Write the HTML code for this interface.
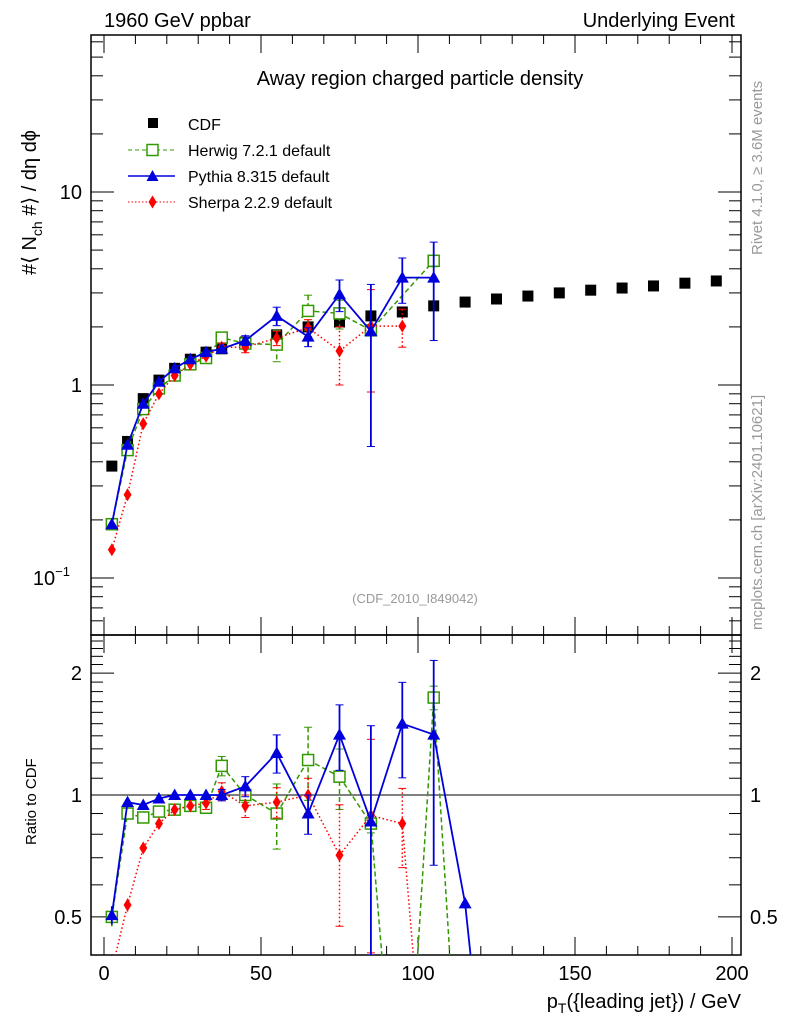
<!DOCTYPE html>
<html><head><meta charset="utf-8"><style>
html,body{margin:0;padding:0;background:#fff;overflow:hidden;width:786px;height:1024px}
svg{display:block;overflow:hidden}
svg text{font-family:"Liberation Sans",sans-serif}
</style></head><body>
<svg id="c" width="786" height="1024" xmlns="http://www.w3.org/2000/svg">
<text x="104" y="27" font-size="20">1960 GeV ppbar</text>
<text x="735" y="27" font-size="20" text-anchor="end">Underlying Event</text>
<text x="420" y="85" font-size="20" text-anchor="middle">Away region charged particle density</text>
<text x="415" y="603" font-size="13" fill="#999" text-anchor="middle">(CDF_2010_I849042)</text>
<text transform="translate(762,255) rotate(-90)" font-size="15" fill="#999">Rivet 4.1.0, ≥ 3.6M events</text>
<text transform="translate(762,630) rotate(-90)" font-size="15" fill="#999">mcplots.cern.ch [arXiv:2401.10621]</text>
<text transform="translate(36,275) rotate(-90)" font-size="20">#⟨ N<tspan font-size="14" dy="6">ch</tspan><tspan dy="-6"> #⟩ / dη dϕ</tspan></text>
<text transform="translate(36,845) rotate(-90)" font-size="15">Ratio to CDF</text>
<text x="741" y="1008" font-size="20" text-anchor="end">p<tspan font-size="14" dy="5">T</tspan><tspan dy="-5">({leading jet}) / GeV</tspan></text>
<g id="legend">
<g><rect x="148" y="118" width="10" height="10" fill="#000"/><text x="188" y="130" font-size="16">CDF</text></g>
<g><line x1="128" y1="150" x2="175" y2="150" stroke="#339900" stroke-dasharray="4,3"/><rect x="147" y="144.5" width="11" height="11" fill="#fff" stroke="#339900" stroke-width="1.5"/><text x="188" y="156" font-size="16">Herwig 7.2.1 default</text></g>
<g><line x1="128" y1="176" x2="175" y2="176" stroke="#0000dd" stroke-width="1.5"/><path d="M152.5,170 L158.5,181 L146.5,181Z" fill="#0000dd"/><text x="188" y="182" font-size="16">Pythia 8.315 default</text></g>
<g><line x1="128" y1="202" x2="175" y2="202" stroke="#ff0000" stroke-dasharray="1.5,2"/><path d="M152.5,195.5 L156.5,202 L152.5,208.5 L148.5,202Z" fill="#ff0000"/><text x="188" y="208" font-size="16">Sherpa 2.2.9 default</text></g>
</g>
</svg>
<script>
const xBins=[2.5,7.5,12.5,17.5,22.5,27.5,32.5,37.5,45,55,65,75,85,95,105,115,125,135,145,155,165,175,185,195];
const cdfVals=[0.38,0.51,0.85,1.06,1.22,1.36,1.48,1.54,1.67,1.82,2.0,2.12,2.28,2.39,2.57,2.69,2.79,2.89,3.0,3.1,3.18,3.26,3.37,3.46];
const mcX=[2.5,7.5,12.5,17.5,22.5,27.5,32.5,37.5,45,55,65,75,85,95,105];
const herwigVals=[0.19,0.46,0.75,0.96,1.12,1.28,1.38,1.76,1.64,1.62,2.42,2.35,1.92,0,4.4];
const herwigErr=[0.01,0.01,0.02,0.02,0.02,0.03,0.04,0.1,0.07,0.3,0.5,0.4,0.1,0,0.3];
const pythiaVals=[0.19,0.49,0.80,1.04,1.22,1.36,1.48,1.54,1.70,2.28,1.78,2.95,1.90,3.6,3.6];
const pythiaErr=[0.01,0.01,0.02,0.02,0.02,0.03,0.04,0.05,0.1,0.25,0.2,0.55,1.42,0.95,1.9];
const sherpaVals=[0.14,0.27,0.63,0.90,1.12,1.28,1.41,1.57,1.57,1.75,1.98,1.50,2.02,2.02,0];
const sherpaErr=[0.005,0.01,0.02,0.02,0.03,0.04,0.05,0.08,0.1,0.15,0.2,0.5,1.1,0.45,0];
const ratioX=[2.5,7.5,12.5,17.5,22.5,27.5,32.5,37.5,45,55,65,75,85,95,105,115,125];
const herwigRatio=[0.5,0.90,0.88,0.91,0.92,0.94,0.93,1.18,1.0,0.90,1.22,1.11,0.85,0,1.74,0,0];
const pythiaRatio=[0.505,0.96,0.945,0.98,1.0,1.0,1.0,1.0,1.05,1.27,0.90,1.41,0.86,1.50,1.41,0.54,0];
const sherpaRatio=[0.37,0.535,0.74,0.85,0.92,0.94,0.955,1.02,0.94,0.96,1.0,0.71,0.89,0.85,0,0,0];
const xTicks=[0,50,100,150,200];
const ratioTicks=[0.5,1,2];

const NS="http://www.w3.org/2000/svg";
const svg=document.getElementById('c');
const L=91,R=741,T=35,MB=635,RB=955;
const X=v=>104+(v)*3.14;
const Y=v=>385-193*Math.log10(v);
const YR=v=>795-405*Math.log10(v);
function mk(tag,at,parent){const e=document.createElementNS(NS,tag);for(const k in at)e.setAttribute(k,at[k]);(parent||svg).appendChild(e);return e;}
let f1=mk('rect',{x:L,y:T,width:R-L,height:MB-T,fill:'none',stroke:'#000','stroke-width':1.5});


let f2=mk('rect',{x:L,y:MB,width:R-L,height:RB-MB,fill:'none',stroke:'#000','stroke-width':1.5});


for(let v=0;v<=200;v+=10){const maj=v%50===0;const x=X(v);
 for(const [yb,yt] of [[MB,T],[RB,MB]]){
  mk('line',{x1:x,y1:yb,x2:x,y2:yb-(maj?18:9),stroke:'#000'});
  mk('line',{x1:x,y1:yt,x2:x,y2:yt+(maj?18:9),stroke:'#000'});
 }}
xTicks.forEach(v=>{const t=mk('text',{x:X(v),y:980,'font-size':20,'text-anchor':'middle'});t.textContent=v;

});
for(let d=-2;d<=1;d++)for(let m=1;m<10;m++){const v=m*Math.pow(10,d);const y=Y(v);if(y<T||y>MB)continue;
 const len=m===1?23:12;mk('line',{x1:L,y1:y,x2:L+len,y2:y,stroke:'#000'});mk('line',{x1:R,y1:y,x2:R-len,y2:y,stroke:'#000'});}
[[0.1,'10','−1'],[1,'1',''],[10,'10','']].forEach(([v,s,e])=>{const t=mk('text',{x:e?70:82,y:Y(v)+7,'font-size':20,'text-anchor':'end'});t.textContent=s;
 if(e){const ts=mk('tspan',{'font-size':13,dy:-9},t);ts.textContent=e;}
 
 });
for(let v=0.4;v<=2.5;v+=0.1){const y=YR(v);if(y<MB||y>RB)continue;const maj=ratioTicks.some(r=>Math.abs(r-v)<1e-6);
 const len=maj?23:12;mk('line',{x1:L,y1:y,x2:L+len,y2:y,stroke:'#000'});mk('line',{x1:R,y1:y,x2:R-len,y2:y,stroke:'#000'});}
ratioTicks.forEach(v=>{const a=mk('text',{x:82,y:YR(v)+7,'font-size':20,'text-anchor':'end'});a.textContent=v;


const b=mk('text',{x:750,y:YR(v)+7,'font-size':20});b.textContent=v;

});
let one=mk('line',{x1:L,y1:YR(1),x2:R,y2:YR(1),stroke:'#000'});


const defs=mk('defs',{});
const c1=mk('clipPath',{id:'cm'},defs);mk('rect',{x:L,y:T,width:R-L,height:MB-T},c1);
const c2=mk('clipPath',{id:'cr'},defs);mk('rect',{x:L,y:MB,width:R-L,height:RB-MB},c2);
const gm=mk('g',{'clip-path':'url(#cm)'});
const gr=mk('g',{'clip-path':'url(#cr)'});
function marker(g,type,x,y,col){
 if(type==='sq')return mk('rect',{x:x-5.5,y:y-5.5,width:11,height:11,fill:'#fff',stroke:col,'stroke-width':1.5},g);
 if(type==='tri')return mk('path',{d:`M${x},${y-6.5}L${x+6.5},${y+5}L${x-6.5},${y+5}Z`,fill:col},g);
 if(type==='dia')return mk('path',{d:`M${x},${y-6.5}L${x+4},${y}L${x},${y+6.5}L${x-4},${y}Z`,fill:col},g);
}
const series=[
 {n:'herwig',v:herwigVals,e:herwigErr,r:herwigRatio,col:'#339900',dash:'5,3',w:1.5,t:'sq'},
 {n:'sherpa',v:sherpaVals,e:sherpaErr,r:sherpaRatio,col:'#ff0000',dash:'1.5,2.5',w:1.5,t:'dia'},
 {n:'pythia',v:pythiaVals,e:pythiaErr,r:pythiaRatio,col:'#0000dd',dash:'none',w:1.8,t:'tri'}];
xBins.forEach((x,i)=>{const r=mk('rect',{x:X(x)-5.5,y:Y(cdfVals[i])-5.5,width:11,height:11,fill:'#000'},gm);

});
const FAR=1200, BOT=RB+1;
series.forEach(s=>{
 let pts=[];mcX.forEach((x,i)=>{if(s.v[i]>0)pts.push(X(x)+','+Y(s.v[i]));});
 const pl=mk('polyline',{points:pts.join(' '),fill:'none',stroke:s.col,'stroke-width':s.w,'stroke-dasharray':s.dash},gm);
 
 
 mcX.forEach((x,i)=>{if(!(s.v[i]>0))return;const v=s.v[i],e=s.e[i];
  const y1=Y(v+e),y2=Math.min(Y(Math.max(v-e,1e-3)),MB);
  mk('line',{x1:X(x),y1:y1,x2:X(x),y2:y2,stroke:s.col,'stroke-width':s.w,'stroke-dasharray':s.dash},gm);
  if(e>0.05){mk('line',{x1:X(x)-4,y1:y1,x2:X(x)+4,y2:y1,stroke:s.col},gm);mk('line',{x1:X(x)-4,y1:y2,x2:X(x)+4,y2:y2,stroke:s.col},gm);}
  const m=marker(gm,s.t,X(x),Y(v),s.col);
  
  });
 // ratio line, clipped manually at bottom
 const P=ratioX.map((x,i)=>[X(x), s.r[i]>0?YR(s.r[i]):FAR]);
 let d='';
 for(let i=0;i<P.length-1;i++){
  let [x1,y1]=P[i],[x2,y2]=P[i+1];
  if(y1>BOT&&y2>BOT)continue;
  if(y1>BOT){x1=x1+(x2-x1)*(y1-BOT)/(y1-y2);y1=BOT;}
  if(y2>BOT){x2=x1+(x2-x1)*(BOT-y1)/(y2-y1);y2=BOT;}
  d+=`M${x1.toFixed(2)},${y1.toFixed(2)}L${x2.toFixed(2)},${y2.toFixed(2)}`;
 }
 const rl=mk('path',{d:d,fill:'none',stroke:s.col,'stroke-width':s.w,'stroke-dasharray':s.dash},gr);
 
 
 ratioX.forEach((x,i)=>{const r=s.r[i];if(!(r>0))return;
  const e=i<mcX.length?s.e[i]/cdfVals[i]:0;
  if(e>0.01){const y1=Math.max(YR(r+e),MB),y2=Math.min(YR(Math.max(r-e,0.01)),RB);
   mk('line',{x1:X(x),y1:y1,x2:X(x),y2:y2,stroke:s.col,'stroke-width':s.w,'stroke-dasharray':s.dash},gr);
   if(e>0.03){mk('line',{x1:X(x)-4,y1:y1,x2:X(x)+4,y2:y1,stroke:s.col},gr);mk('line',{x1:X(x)-4,y1:y2,x2:X(x)+4,y2:y2,stroke:s.col},gr);}}
  const m=marker(gr,s.t,X(x),YR(r),s.col);
  
  });
});
</script>
</body></html>
